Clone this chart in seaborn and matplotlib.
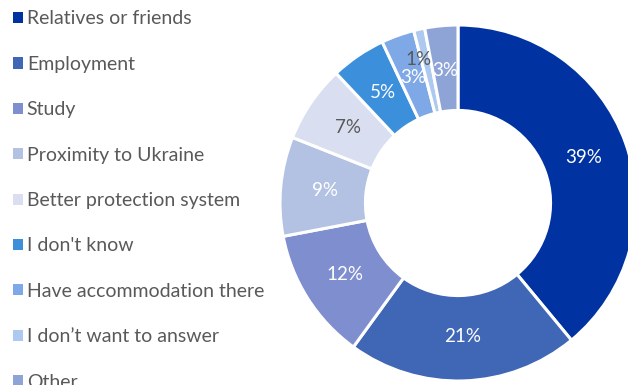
import matplotlib
matplotlib.use("Agg")
import matplotlib.pyplot as plt
import seaborn as sns
from matplotlib.patches import Patch

categories = ["Relatives or friends", "Employment", "Study", "Proximity to Ukraine",
              "Better protection system", "I don't know", "Have accommodation there",
              "I don\u2019t want to answer", "Other"]
values = [39, 21, 12, 9, 7, 5, 3, 1, 3]
colors = ["#0033A1", "#4066B6", "#7F8ECF", "#B3C2E3", "#D9DFF0",
          "#3B8FDB", "#7FA8E6", "#ADC9F0", "#8FA4D6"]
label_colors = ["white", "white", "white", "white", "#595959",
                "white", "white", "#595959", "white"]

sns.set_theme(style="white")
plt.rcParams["font.family"] = ["Lato", "DejaVu Sans"]

fig = plt.figure(figsize=(6.28, 3.85), dpi=100)
ax = fig.add_axes([280 / 628, 4 / 385, 356 / 628, 356 / 385])
palette = sns.color_palette(colors)

wedges, texts, autotexts = ax.pie(
    values, colors=palette, startangle=90, counterclock=False,
    autopct="%d%%", pctdistance=0.75, radius=1.0,
    wedgeprops=dict(width=0.48, edgecolor="white", linewidth=2.2),
    textprops=dict(fontsize=13.5))
for t, c in zip(autotexts, label_colors):
    t.set_color(c)
# the 1% label sits slightly outside its thin slice
x, y = autotexts[7].get_position()
autotexts[7].set_position((x * 1.35, y * 1.1))
ax.set_xlim(-1, 1)
ax.set_ylim(-1, 1)
ax.set_aspect("equal")
ax.axis("off")

handles = [Patch(facecolor=c, edgecolor="none") for c in palette]
leg = fig.legend(handles, categories, loc="upper left", bbox_to_anchor=(0.008, 0.993),
                 frameon=False, fontsize=14, labelcolor="#595959",
                 handlelength=0.5, handleheight=0.5, handletextpad=0.22,
                 labelspacing=1.46, borderaxespad=0.0)

fig.savefig("out.png", dpi=100)
